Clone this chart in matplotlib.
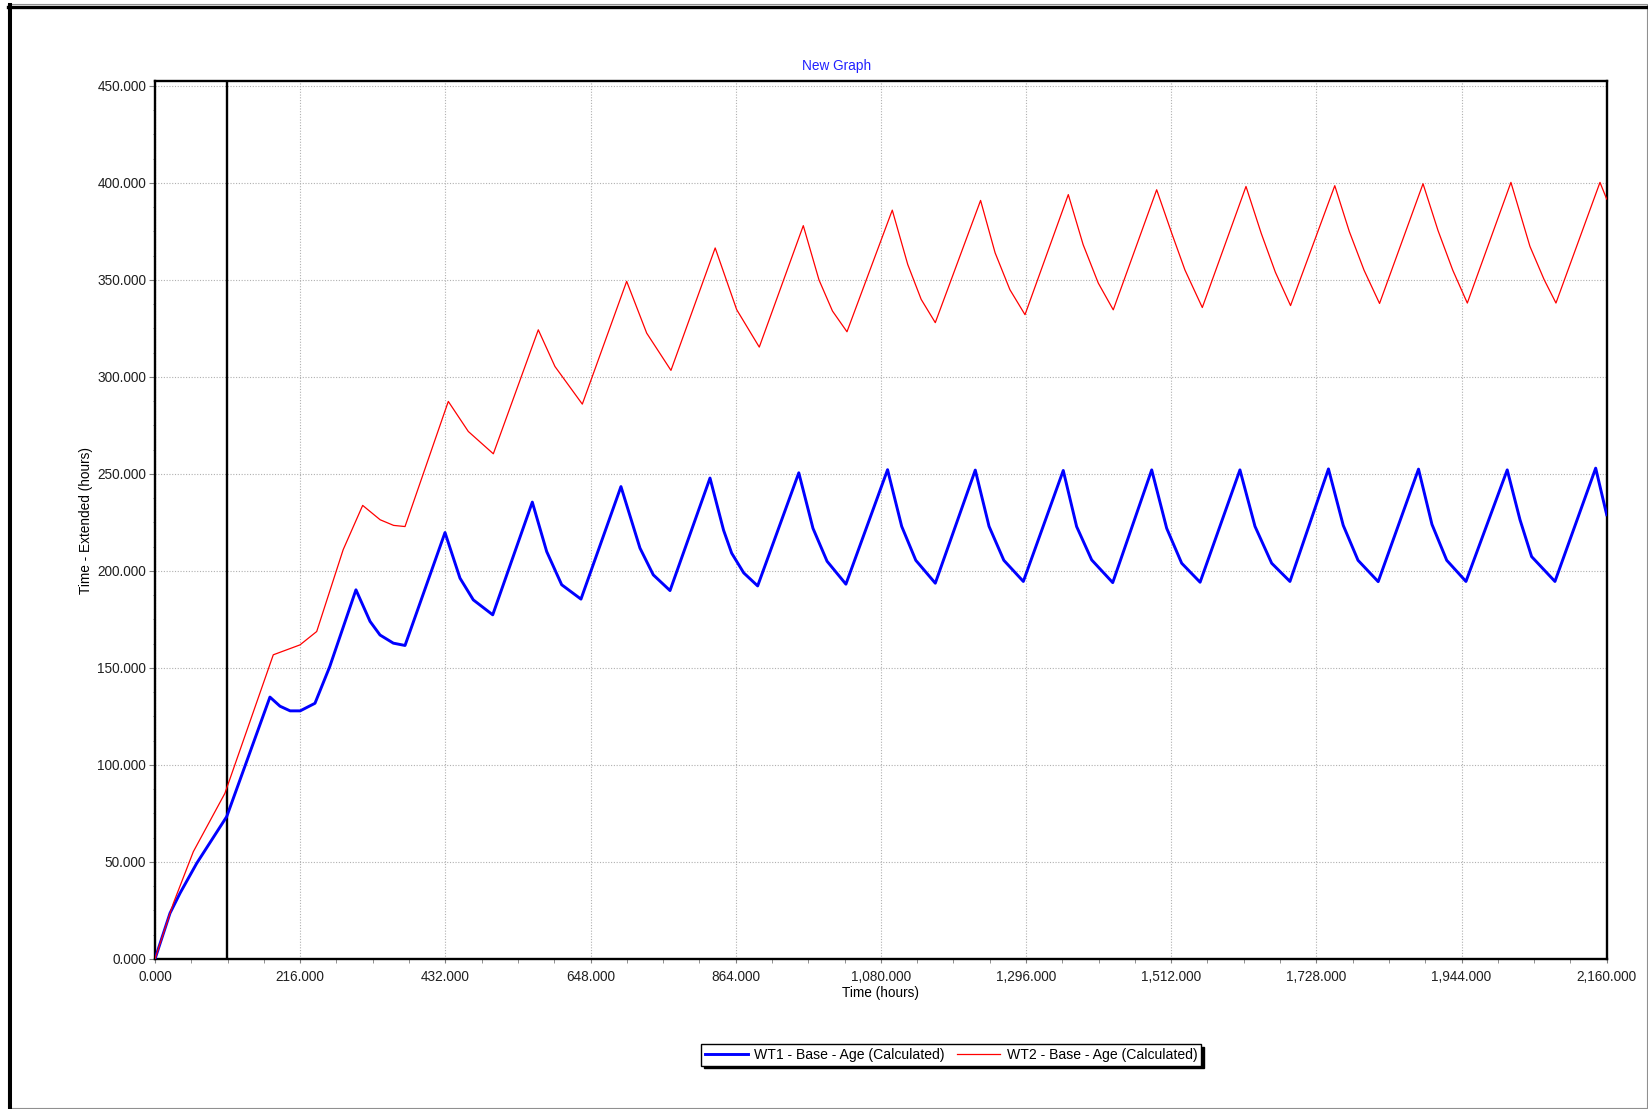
import matplotlib
matplotlib.use("Agg")
import matplotlib.pyplot as plt
from matplotlib.lines import Line2D
from matplotlib.ticker import MultipleLocator, FuncFormatter

plt.rcParams['font.family'] = ['Liberation Sans', 'DejaVu Sans']

# values
wt1_hours = [0, 22.3, 37.2, 62, 106.7, 171, 186, 201, 216, 238, 260, 299, 320, 334.8, 354.6, 372,
             431.5, 453.8, 473.6, 502.5,
             561.4, 582.8, 605.1, 633.8,
             693.3, 721.6, 741.4, 766.3,
             825.8, 846, 858, 876, 896.7,
             957.9, 979, 1000, 1028,
             1090, 1111, 1132, 1161,
             1220.5, 1241, 1263, 1292,
             1351.4, 1371.3, 1393.7, 1425,
             1483, 1505.3, 1527.6, 1555,
             1614.3, 1636.7, 1661.5, 1688.7,
             1746, 1768, 1790, 1820,
             1880, 1900, 1922, 1950.6,
             2012, 2031, 2048.3, 2083,
             2143.6, 2160]
wt1_age = [0, 23.6, 33.9, 49.3, 73.4, 135, 130.3, 127.9, 127.9, 131.8, 150.7, 190.3, 174, 167, 162.8, 161.6,
           219.8, 196.3, 185.1, 177.4,
           235.5, 210, 192.9, 185.5,
           243.5, 211.8, 198, 189.9,
           247.9, 221, 209.2, 199, 192.3,
           250.6, 222, 205, 193.2,
           252.2, 223, 205.5, 193.7,
           252, 223, 205.5, 194.6,
           251.8, 222.9, 205.7, 194,
           252.1, 222, 204, 194.2,
           252.1, 223, 204, 194.6,
           252.6, 223.5, 205.5, 194.5,
           252.5, 224, 205.5, 194.6,
           252.1, 226.4, 207.4, 194.6,
           253, 229]

wt2_hours = [0, 27.3, 57, 104, 176, 215.7, 240.6, 280, 309, 335, 355, 372,
             436.4, 466.2, 503.4,
             570.3, 595.1, 635.8,
             701.8, 731.6, 767.7,
             833.5, 865.5, 899.1,
             964.6, 988, 1008, 1029.6,
             1097, 1120, 1140, 1161,
             1228.4, 1250, 1272, 1294.5,
             1358.9, 1381, 1403.5, 1425.8,
             1490.4, 1512.7, 1532.5, 1558.3,
             1623.3, 1646, 1667, 1689.6,
             1755.4, 1777, 1799, 1822,
             1886.7, 1909, 1931, 1952.6,
             2017.5, 2045.8, 2067, 2084.5,
             2150, 2160]
wt2_age = [0, 28.7, 55.3, 85.4, 156.8, 161.9, 168.8, 211, 233.8, 226.4, 223.5, 222.9,
           287.4, 271.9, 260.4,
           324.3, 305.4, 286,
           349.3, 322.6, 303.4,
           366.5, 334.7, 315.4,
           378, 350, 334, 323.3,
           386, 358, 340, 328,
           391, 364, 345, 332.1,
           394, 368.2, 348.4, 334.6,
           396.5, 374.2, 355.1, 335.8,
           398.2, 374, 354, 336.8,
           398.6, 375, 355, 337.9,
           399.6, 375.5, 355, 338.1,
           400.3, 367.3, 350.1, 338.1,
           400.3, 391.7]

marker_hour = 107

W, H = 1648, 1109
fig = plt.figure(figsize=(W / 100, H / 100), dpi=100)
ax = fig.add_axes([155 / W, 1 - 959 / H, (1606.7 - 155) / W, (959 - 81.3) / H])

ax.axvline(marker_hour, color='black', lw=1.7, zorder=2)
ax.plot(wt1_hours, wt1_age, color='#0000ff', lw=2.1, label='WT1 - Base - Age (Calculated)', zorder=3)
ax.plot(wt2_hours, wt2_age, color='#ff0000', lw=0.9, label='WT2 - Base - Age (Calculated)', zorder=4)

ax.set_xlim(0, 2160)
ax.set_ylim(0, 452.4)
ax.xaxis.set_major_locator(MultipleLocator(216))
ax.xaxis.set_minor_locator(MultipleLocator(54))
ax.yaxis.set_major_locator(MultipleLocator(50))
ax.yaxis.set_minor_locator(MultipleLocator(12.5))
fmt = FuncFormatter(lambda v, p: f'{v:,.3f}')
ax.xaxis.set_major_formatter(fmt)
ax.yaxis.set_major_formatter(fmt)
ax.grid(True, which='major', color='#b0b0b0', linestyle=(0, (1, 1.5)), lw=0.8)

ax.tick_params(axis='both', which='both', direction='out', color='#808080', labelsize=9.8, labelcolor='#202020')
ax.tick_params(axis='y', which='major', length=4.3, pad=2)
ax.tick_params(axis='y', which='minor', length=1.8)
ax.tick_params(axis='x', which='both', length=3, pad=5)
for s in ax.spines.values():
    s.set_linewidth(1.7)
    s.set_color('black')

ax.set_xlabel('Time (hours)', fontsize=9.8, labelpad=1.5)
ax.set_ylabel('Time - Extended (hours)', fontsize=9.8, labelpad=3)
fig.text(837 / W, 1 - 65.7 / H, 'New Graph', color='#2020ff', fontsize=9.8, ha='center', va='center')

leg = fig.legend(loc='center', bbox_to_anchor=(951 / W, 1 - 1055 / H), ncol=2, frameon=True,
                 fancybox=False, shadow={'color': 'black', 'alpha': 1}, edgecolor='black', framealpha=1,
                 borderpad=0.25, handlelength=3.1, handletextpad=0.45, columnspacing=0.85,
                 borderaxespad=0, fontsize=10.1)
leg.get_frame().set_linewidth(1.0)

# window frame
def fx(x):
    return x / W

def fy(y):
    return 1 - y / H

fig.add_artist(Line2D([fx(8), fx(1647), fx(1647), fx(8), fx(8)],
                      [fy(4), fy(4), fy(1108), fy(1108), fy(4)],
                      transform=fig.transFigure, color='#909090', lw=0.8))
fig.add_artist(Line2D([fx(10.3), fx(10.3)], [fy(5), fy(1108)],
                      transform=fig.transFigure, color='black', lw=2.9))
fig.add_artist(Line2D([fx(8.3), fx(1647)], [fy(6.7), fy(6.7)],
                      transform=fig.transFigure, color='black', lw=2.4))

fig.savefig('out.png', dpi=100)
